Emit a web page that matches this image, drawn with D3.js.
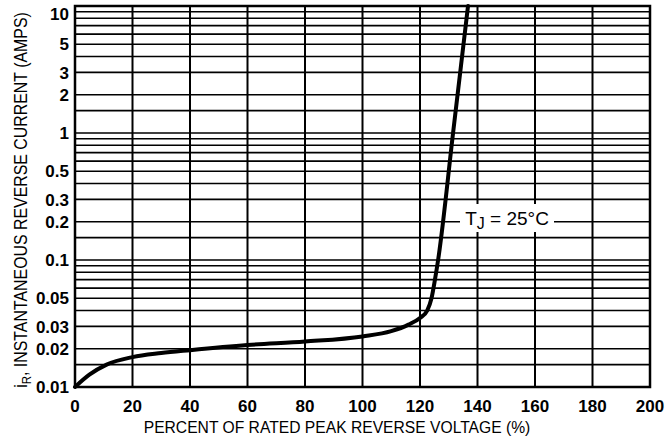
<!DOCTYPE html>
<html>
<head>
<meta charset="utf-8">
<script src="https://cdn.jsdelivr.net/npm/d3@7"></script>
<style>
  body { margin: 0; background: #fff; }
  text { font-family: "Liberation Sans Narrow", "Arial Narrow", "Liberation Sans", sans-serif; fill: #000; }
</style>
</head>
<body>
<svg width="667" height="442"></svg>
<script>
// percent of rated peak reverse voltage vs instantaneous reverse current (amps)
var pct_values = [0, 5, 11, 20, 30, 40, 60, 80, 100, 110, 116, 120, 122.5, 124, 125.2, 126.3, 131.5, 136.7]
var amp_values = [0.010, 0.0125, 0.015, 0.0172, 0.0185, 0.0195, 0.0214, 0.0228, 0.025, 0.0275, 0.031, 0.035, 0.04, 0.05, 0.07, 0.1, 1, 10]

var x_ticks = [0, 20, 40, 60, 80, 100, 120, 140, 160, 180, 200]
var y_ticks = [10, 5, 3, 2, 1, 0.5, 0.3, 0.2, 0.1, 0.05, 0.03, 0.02, 0.01]
var y_tick_labels = ["10", "5", "3", "2", "1", "0.5", "0.3", "0.2", "0.1", "0.05", "0.03", "0.02", "0.01"]
// log paper lines within each decade
var grid_steps = [1, 1.5, 2, 3, 4, 5, 6, 7, 8, 9]
var decades = [0.01, 0.1, 1]

// squeeze a text horizontally to a target width (no narrow font installed)
function squeeze(sel, target, base) {
    var len = sel.node().getComputedTextLength()
    var k = Math.min(1, target / len)
    sel.attr("transform", base + " scale(" + k + ",1)")
}

function draw_chart() {
    var svg = d3.select("svg"),
        left = 75, right = 650, top = 6, bottom = 387

    var x = d3.scaleLinear().domain([0, 200]).range([left, right])
    var y = d3.scaleLog().domain([0.01, 10]).range([bottom, top])

    var grid_vals = []
    decades.forEach(function (d) {
        grid_steps.forEach(function (s) { grid_vals.push(d * s) })
    })
    grid_vals.push(10)

    var g = svg.append("g")

    // horizontal grid
    g.selectAll(".hgrid").data(grid_vals).enter().append("line")
        .attr("x1", left).attr("x2", right)
        .attr("y1", function (d) { return y(d) })
        .attr("y2", function (d) { return y(d) })
        .attr("stroke", "#000").attr("stroke-width", 1.6)

    // vertical grid
    g.selectAll(".vgrid").data(x_ticks).enter().append("line")
        .attr("y1", top).attr("y2", bottom)
        .attr("x1", function (d) { return x(d) })
        .attr("x2", function (d) { return x(d) })
        .attr("stroke", "#000").attr("stroke-width", 2)

    // frame
    g.append("rect")
        .attr("x", left).attr("y", top)
        .attr("width", right - left).attr("height", bottom - top)
        .attr("fill", "none").attr("stroke", "#000").attr("stroke-width", 2.5)

    // annotation box
    var lbl = g.append("g").attr("transform", "translate(507,218)")
    lbl.append("rect").attr("x", -47).attr("y", -14).attr("width", 94).attr("height", 28).attr("fill", "#fff")
    var t = lbl.append("text").attr("text-anchor", "middle").attr("y", 7)
        .style("font-size", "19px")
    t.append("tspan").text("T")
    t.append("tspan").attr("dy", 4).style("font-size", "16px").text("J")
    t.append("tspan").attr("dy", -4).text(" = 25°C")

    var line = d3.line()
        .x(function (d, i) { return x(pct_values[i]) })
        .y(function (d) { return y(d) })
        .curve(d3.curveMonotoneX)

    g.append("path")
        .datum(amp_values)
        .attr("fill", "none")
        .attr("stroke", "#000")
        .attr("stroke-width", 4)
        .attr("stroke-linecap", "round")
        .attr("d", line)

    // y tick labels
    g.selectAll(".ylab").data(y_ticks).enter().append("text")
        .attr("x", 69)
        .attr("y", function (d) { return Math.max(y(d), 14) })
        .attr("dy", "0.36em")
        .attr("text-anchor", "end")
        .style("font-size", "17px").style("font-weight", "bold")
        .text(function (d, i) { return y_tick_labels[i] })

    // x tick labels
    g.selectAll(".xlab").data(x_ticks).enter().append("text")
        .attr("x", function (d) { return x(d) })
        .attr("y", 412)
        .attr("text-anchor", "middle")
        .style("font-size", "17px").style("font-weight", "bold")
        .text(function (d) { return d })

    var xl = svg.append("text")
        .attr("text-anchor", "middle")
        .style("font-size", "17px")
        .text("PERCENT OF RATED PEAK REVERSE VOLTAGE (%)")
    squeeze(xl, 387, "translate(337,433)")

    var yl = svg.append("text")
        .attr("text-anchor", "middle")
        .style("font-size", "18px")
    yl.append("tspan").text("i")
    yl.append("tspan").attr("dy", 4).style("font-size", "13px").text("R")
    yl.append("tspan").attr("dy", -4).text(", INSTANTANEOUS REVERSE CURRENT (AMPS)")
    squeeze(yl, 376, "translate(27,200) rotate(-90)")
}

draw_chart()
</script>
</body>
</html>
